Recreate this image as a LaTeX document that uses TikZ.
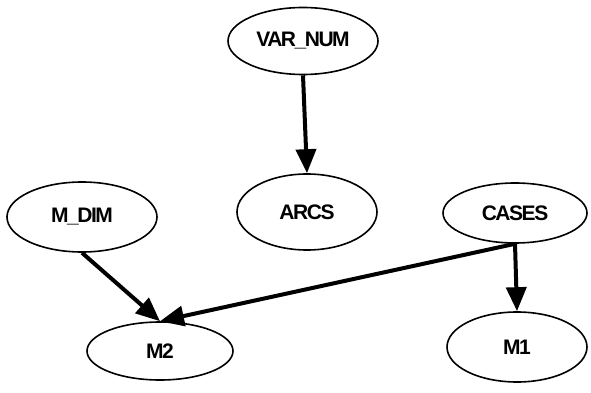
\documentclass[tikz,border=0pt]{standalone}
\usepackage{fontspec}
\setmainfont{Liberation Sans}[LetterSpace=-7]
\usetikzlibrary{shapes.geometric,arrows.meta}
\begin{document}
\begin{tikzpicture}[x=1pt,y=-1pt,
  var/.style={ellipse,draw,line width=1.6pt,inner sep=0pt,
    font=\fontsize{21}{23}\selectfont\bfseries},
  link/.style={line width=4pt,-{Triangle[length=24pt,width=20pt]}}]
\useasboundingbox (0,0) rectangle (591,393);
\node[var,minimum width=150,minimum height=67] (varnum) at (303,41) {VAR\_NUM};
\node[var,minimum width=140,minimum height=76] (arcs) at (307,212) {ARCS};
\node[var,minimum width=150,minimum height=70] (mdim) at (82,217) {M\_DIM};
\node[var,minimum width=144,minimum height=60] (cases) at (515,213) {CASES};
\node[var,minimum width=146,minimum height=58] (m2) at (160,351) {M2};
\node[var,minimum width=140,minimum height=70] (m1) at (517,347) {M1};
\draw[link] (varnum.south) -- (arcs.north);
\draw[link] (mdim.south) -- (m2.north);
\draw[link] (cases.south) -- (m2.north);
\draw[link] (cases.south) -- (m1.north);
\end{tikzpicture}
\end{document}
